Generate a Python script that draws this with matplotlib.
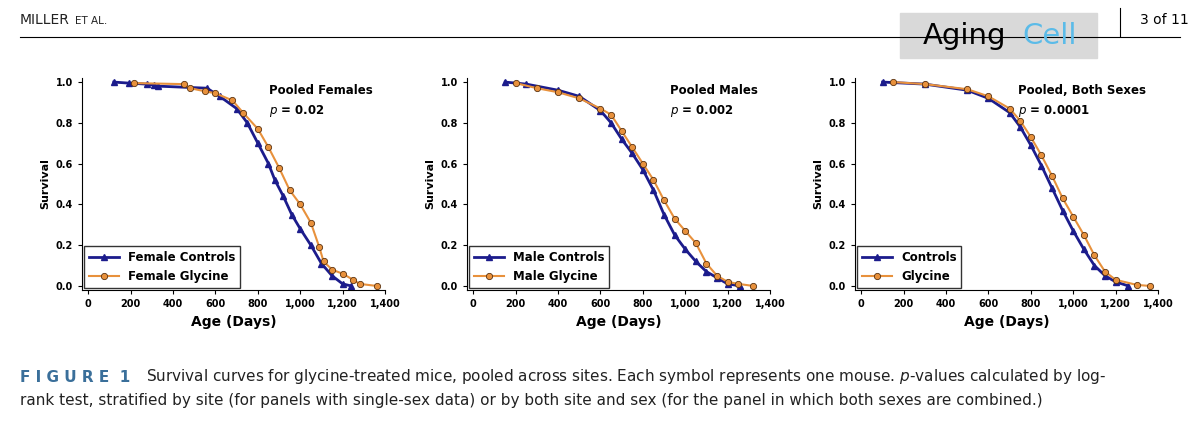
import matplotlib
matplotlib.use("Agg")
import matplotlib.pyplot as plt
from matplotlib.patches import Rectangle

# survival curves (age in days, fraction surviving)
fem_ctrl_age = [120, 190, 275, 310, 330, 560, 620, 700, 750, 800, 850, 880, 920, 960, 1000, 1050, 1100, 1150, 1200, 1240]
fem_ctrl_surv = [1.0, 0.995, 0.99, 0.985, 0.98, 0.97, 0.93, 0.87, 0.80, 0.70, 0.60, 0.52, 0.44, 0.35, 0.28, 0.20, 0.11, 0.05, 0.01, 0.0]
fem_gly_age = [215, 450, 480, 550, 600, 680, 730, 800, 850, 900, 950, 1000, 1050, 1090, 1110, 1150, 1200, 1250, 1280, 1360]
fem_gly_surv = [0.995, 0.99, 0.97, 0.955, 0.945, 0.91, 0.85, 0.77, 0.68, 0.58, 0.47, 0.40, 0.31, 0.19, 0.12, 0.08, 0.06, 0.03, 0.01, 0.0]

male_ctrl_age = [150, 250, 400, 500, 600, 650, 700, 750, 800, 850, 900, 950, 1000, 1050, 1100, 1150, 1200, 1260]
male_ctrl_surv = [1.0, 0.99, 0.96, 0.93, 0.86, 0.80, 0.72, 0.65, 0.57, 0.47, 0.35, 0.25, 0.18, 0.12, 0.07, 0.04, 0.01, 0.0]
male_gly_age = [200, 300, 400, 500, 600, 650, 700, 750, 800, 850, 900, 950, 1000, 1050, 1100, 1150, 1200, 1250, 1320]
male_gly_surv = [0.995, 0.97, 0.95, 0.92, 0.87, 0.84, 0.76, 0.68, 0.60, 0.52, 0.42, 0.33, 0.27, 0.21, 0.11, 0.05, 0.02, 0.01, 0.0]

both_ctrl_age = [100, 300, 500, 600, 700, 750, 800, 850, 900, 950, 1000, 1050, 1100, 1150, 1200, 1260]
both_ctrl_surv = [1.0, 0.99, 0.96, 0.92, 0.85, 0.78, 0.69, 0.59, 0.48, 0.37, 0.27, 0.18, 0.10, 0.05, 0.02, 0.0]
both_gly_age = [150, 300, 500, 600, 700, 750, 800, 850, 900, 950, 1000, 1050, 1100, 1150, 1200, 1300, 1360]
both_gly_surv = [1.0, 0.99, 0.965, 0.93, 0.87, 0.81, 0.73, 0.64, 0.54, 0.43, 0.34, 0.25, 0.15, 0.07, 0.03, 0.005, 0.0]

panels = [
    ("Pooled Females", "0.02", "Female Controls", "Female Glycine",
     fem_ctrl_age, fem_ctrl_surv, fem_gly_age, fem_gly_surv),
    ("Pooled Males", "0.002", "Male Controls", "Male Glycine",
     male_ctrl_age, male_ctrl_surv, male_gly_age, male_gly_surv),
    ("Pooled, Both Sexes", "0.0001", "Controls", "Glycine",
     both_ctrl_age, both_ctrl_surv, both_gly_age, both_gly_surv),
]

W, H = 1200, 432
fig = plt.figure(figsize=(12, 4.32), dpi=100)
navy = "#1c1c8c"
orange = "#e8913c"

lefts = [82, 467, 855]
for left, (title, p, lab_c, lab_g, ca, cs, ga, gs) in zip(lefts, panels):
    ax = fig.add_axes([left / W, 1 - 290 / H, 303 / W, 212 / H])
    ax.plot(ca, cs, color=navy, lw=2, marker="^", ms=4, label=lab_c)
    ax.plot(ga, gs, color=orange, lw=1.5, marker="o", ms=4.5,
            mec="#5a3210", mew=0.6, label=lab_g)
    ax.set_xlim(-30, 1400)
    ax.set_ylim(-0.02, 1.02)
    ax.set_xticks(range(0, 1401, 200))
    ax.set_xticklabels(["0", "200", "400", "600", "800", "1,000", "1,200", "1,400"])
    ax.set_yticks([0, 0.2, 0.4, 0.6, 0.8, 1.0])
    ax.set_yticklabels(["0.0", "0.2", "0.4", "0.6", "0.8", "1.0"])
    ax.tick_params(labelsize=7, width=0.8, length=3)
    for t in ax.get_xticklabels() + ax.get_yticklabels():
        t.set_fontweight("bold")
    for s in ["top", "right"]:
        ax.spines[s].set_visible(False)
    ax.set_xlabel("Age (Days)", fontsize=10, fontweight="bold")
    ax.set_ylabel("Survival", fontsize=8, fontweight="bold")
    tx = ax.text(0.96, 0.97, title, transform=ax.transAxes, ha="right", va="top",
                 fontsize=8.5, fontweight="bold")
    fig.canvas.draw()
    bb = tx.get_window_extent().transformed(ax.transAxes.inverted())
    ax.text(bb.x0, 0.88, "$\\it{p}$ = " + p, transform=ax.transAxes,
            ha="left", va="top", fontsize=8.5, fontweight="bold")
    leg = ax.legend(loc="lower left", fontsize=8.5, frameon=True, fancybox=False,
                    edgecolor="black", borderaxespad=0.2, handlelength=2.5)
    for t in leg.get_texts():
        t.set_fontweight("bold")

# page header
fig.text(20 / W, 1 - 20 / H, "MILLER", fontsize=10, va="center", color="#222222")
fig.text(75 / W, 1 - 21 / H, "ET AL.", fontsize=7.5, va="center", color="#222222")
fig.add_artist(plt.Line2D([20 / W, 1180 / W], [1 - 37 / H] * 2, color="black", lw=0.8))
fig.add_artist(Rectangle((900 / W, 1 - 58 / H), 197 / W, 45 / H, color="#d9d9d9"))
fig.text(965 / W, 1 - 36 / H, "Aging", fontsize=21, va="center", ha="center")
fig.text(1050 / W, 1 - 36 / H, "Cell", fontsize=21, va="center", ha="center", color="#5bbbe8")
fig.add_artist(plt.Line2D([1120 / W] * 2, [1 - 8 / H, 1 - 36 / H], color="black", lw=0.8))
fig.text(1140 / W, 1 - 20 / H, "3 of 11", fontsize=10, va="center")

# caption
fig.text(20 / W, 1 - 377 / H, "F I G U R E  1", fontsize=11, fontweight="bold",
         color="#3a6f9a", va="center")
fig.text(146 / W, 1 - 377 / H,
         "Survival curves for glycine-treated mice, pooled across sites. Each symbol represents one mouse. "
         "$\\it{p}$-values calculated by log-",
         fontsize=11, va="center", color="#222222")
fig.text(20 / W, 1 - 401 / H,
         "rank test, stratified by site (for panels with single-sex data) or by both site and sex "
         "(for the panel in which both sexes are combined.)",
         fontsize=11, va="center", color="#222222")

fig.savefig("out.png", dpi=100, facecolor="white")
